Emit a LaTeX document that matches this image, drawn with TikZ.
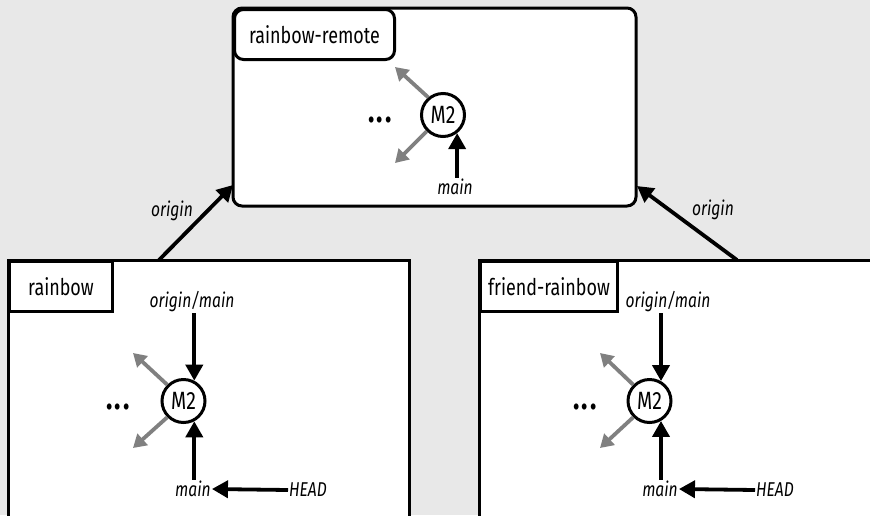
\documentclass[tikz,border=0pt]{standalone}
\usepackage{fontspec}
\setmainfont{Fira Sans}[FakeStretch=0.78]
\usetikzlibrary{arrows.meta}
\definecolor{bggray}{RGB}{232,232,232}
\definecolor{parentgray}{RGB}{128,128,128}
\tikzset{
	repo/.style={draw, line width=3pt, fill=white},
	namebox/.style={draw, line width=3pt, fill=white, inner sep=0pt, minimum height=50pt, font=\fontsize{23}{26}\selectfont},
	commit/.style={circle, draw, line width=3pt, fill=white, inner sep=0pt, minimum size=43pt, font=\fontsize{25}{27}\selectfont},
	refname/.style={inner sep=1pt, font=\itshape\fontsize{20}{23}\selectfont},
	dots/.style={font=\bfseries\fontsize{34}{36}\selectfont},
	refarrow/.style={line width=3.8pt, -{Triangle[length=16pt,width=17pt]}},
	parent/.style={line width=3.8pt, parentgray, -{Triangle[length=13pt,width=15pt]}}
}
\begin{document}
\begin{tikzpicture}[x=1pt, y=-1pt]
		
		% Hintergrund
		\fill[bggray] (0,0) rectangle (870,515);
		\useasboundingbox (0,0) rectangle (870,515);
		\clip (0,0) rectangle (870,515);
		
		% ----- rainbow-remote -----
		\draw[repo, rounded corners=9pt] (233,8) rectangle (636,206);
		\node[namebox, rounded corners=9pt, minimum width=160pt, anchor=north west] (rname) at (233,8) {rainbow-remote};
		
		\node[commit] (rM2) at (443,115) {M2};
		\node[dots] (rdots) at (380,120) {.\kern2pt.\kern2pt.};
		\node[refname] (rmain) at (455,187) {main};
		
		\coordinate (rp1) at (395,67);
		\coordinate (rp2) at (395,163);
		\draw[parent] (rM2.130) -- (rp1);
		\draw[parent] (rM2.225) -- (rp2);
		\draw[refarrow] (rM2.-52 |- rmain.north) -- (rM2.-52);
		
		% ----- rainbow -----
		\draw[repo] (8,260) rectangle (409,540);
		\node[namebox, minimum width=103pt, anchor=north west] (lname) at (8,260) {rainbow};
		
		\node[commit] (lM2) at (183.5,401) {M2};
		\node[dots] (ldots) at (118,407) {.\kern2pt.\kern2pt.};
		\node[refname] (lorigin) at (192,302) {origin/main};
		\node[refname] (lmain) at (193,489) {main};
		\node[refname] (lHEAD) at (308,490) {HEAD};
		
		\coordinate (lp1) at (133,353);
		\coordinate (lp2) at (133,448);
		\draw[parent] (lM2.135) -- (lp1);
		\draw[parent] (lM2.225) -- (lp2);
		\draw[refarrow] (lM2.62 |- lorigin.south) -- (lM2.62);
		\draw[refarrow] (lM2.-62 |- lmain.north) -- (lM2.-62);
		\draw[refarrow] (lHEAD.west) -- (lmain.east);
		
		% ----- friend-rainbow -----
		\draw[repo] (479,260) rectangle (900,540);
		\node[namebox, minimum width=137pt, anchor=north west] (fname) at (479,260) {friend-rainbow};
		
		\node[commit] (fM2) at (649.5,401) {M2};
		\node[dots] (fdots) at (585,407) {.\kern2pt.\kern2pt.};
		\node[refname] (forigin) at (668,302) {origin/main};
		\node[refname] (fmain) at (660,489) {main};
		\node[refname] (fHEAD) at (775,490) {HEAD};
		
		\coordinate (fp1) at (600,353);
		\coordinate (fp2) at (600,448);
		\draw[parent] (fM2.135) -- (fp1);
		\draw[parent] (fM2.225) -- (fp2);
		\draw[refarrow] (fM2.60 |- forigin.south) -- (fM2.60);
		\draw[refarrow] (fM2.-60 |- fmain.north) -- (fM2.-60);
		\draw[refarrow] (fHEAD.west) -- (fmain.east);
		
		% ----- origin -----
		\coordinate (lstart) at (159,260);
		\coordinate (lend) at (233,185);
		\coordinate (fstart) at (737,260);
		\coordinate (fend) at (637,186);
		\draw[refarrow] (lstart) -- (lend);
		\draw[refarrow] (fstart) -- (fend);
		\node[refname] (lorigname) at (172,211) {origin};
		\node[refname] (forigname) at (713,210) {origin};
		
	\end{tikzpicture}
\end{document}
